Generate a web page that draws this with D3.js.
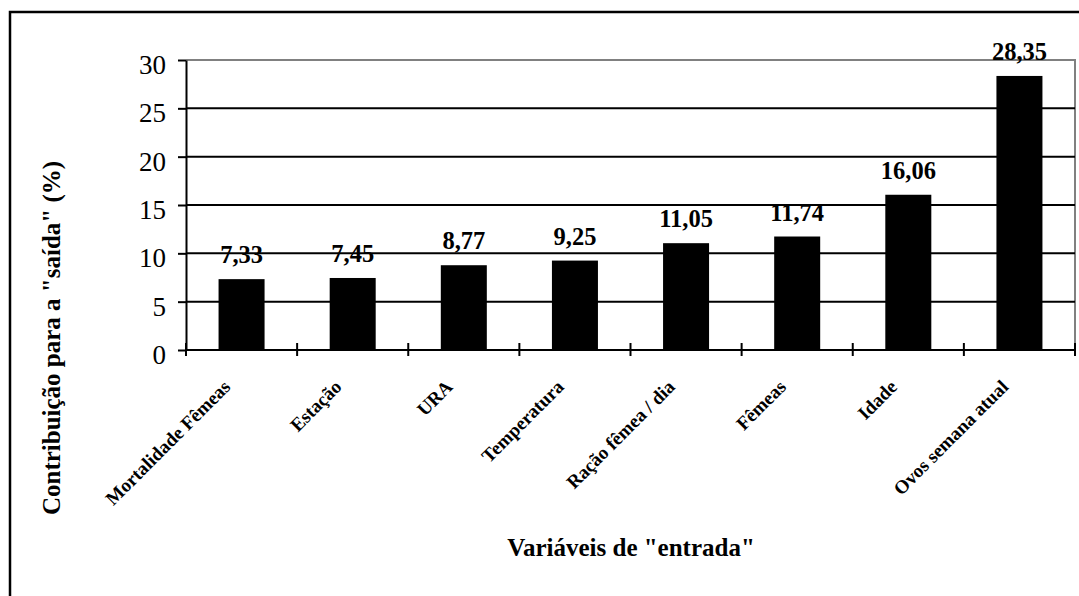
<!DOCTYPE html>
<html>
<head>
<meta charset="utf-8">
<script src="https://cdn.jsdelivr.net/npm/d3@7"></script>
<style>
  html, body { margin: 0; padding: 0; background: #fff; }
  svg { display: block; }
  text { font-family: "Liberation Serif", "Times New Roman", Times, serif; fill: #000; }
</style>
</head>
<body>
<svg id="chart" width="1079" height="596"></svg>
<script>
const categories = ["Mortalidade Fêmeas", "Estação", "URA", "Temperatura", "Ração fêmea / dia", "Fêmeas", "Idade", "Ovos semana atual"];
const values = [7.33, 7.45, 8.77, 9.25, 11.05, 11.74, 16.06, 28.35];
const yTicks = [0, 5, 10, 15, 20, 25, 30];
const yTitle = "Contribuição para a \"saída\" (%)";
const xTitle = "Variáveis de \"entrada\"";

const W = 1079, H = 596;
const plot = { left: 186, right: 1075, top: 60, bottom: 350 };

const svg = d3.select("#chart");

const locale = d3.formatLocale({ decimal: ",", thousands: ".", grouping: [3], currency: ["", ""] });
const fmt = locale.format(".2f");

// outer chart border
svg.append("rect")
  .attr("x", 10).attr("y", 12)
  .attr("width", W + 20).attr("height", H + 20)
  .attr("fill", "none").attr("stroke", "#000").attr("stroke-width", 2.5);

const x = d3.scaleBand()
  .domain(categories)
  .range([plot.left, plot.right])
  .paddingInner(0.586)
  .paddingOuter(0.293);

const y = d3.scaleLinear().domain([0, 30]).range([plot.bottom, plot.top]);

// plot area border (top + right), gray
svg.append("path")
  .attr("d", `M${plot.left},${y(30)}H${plot.right}V${plot.bottom}`)
  .attr("fill", "none").attr("stroke", "#808080").attr("stroke-width", 2);

// gridlines
svg.append("g").selectAll("line")
  .data(yTicks.filter(t => t > 0 && t < 30))
  .join("line")
  .attr("x1", plot.left).attr("x2", plot.right)
  .attr("y1", d => y(d)).attr("y2", d => y(d))
  .attr("stroke", "#000").attr("stroke-width", 2);

// bars
svg.append("g").selectAll("rect")
  .data(values)
  .join("rect")
  .attr("x", (d, i) => x(categories[i]))
  .attr("width", x.bandwidth())
  .attr("y", d => y(d))
  .attr("height", d => y(0) - y(d))
  .attr("fill", "#000");

// value labels
svg.append("g").selectAll("text")
  .data(values)
  .join("text")
  .attr("x", (d, i) => x(categories[i]) + x.bandwidth() / 2)
  .attr("y", d => y(d) - 16)
  .attr("text-anchor", "middle")
  .attr("font-weight", "bold")
  .attr("font-size", 24.5)
  .text(d => fmt(d));

// y axis
const yAxis = d3.axisLeft(y).tickValues(yTicks).tickSize(8).tickSizeOuter(0).tickPadding(12);
const gy = svg.append("g").attr("transform", `translate(${plot.left},0)`).call(yAxis);
gy.select(".domain").attr("stroke", "#000").attr("stroke-width", 2);
gy.selectAll(".tick line").attr("stroke", "#000").attr("stroke-width", 2);
gy.selectAll(".tick text")
  .attr("font-family", "\"Liberation Serif\", \"Times New Roman\", serif")
  .attr("font-size", 27)
  .attr("fill", "#000")
  .attr("dy", "0.5em");

// x axis line
const step = x.step();
const boundaries = d3.range(categories.length + 1).map(i => plot.left + i * step);
svg.append("line")
  .attr("x1", plot.left).attr("x2", plot.right)
  .attr("y1", y(0)).attr("y2", y(0))
  .attr("stroke", "#000").attr("stroke-width", 2);
svg.append("g").selectAll("line")
  .data(boundaries)
  .join("line")
  .attr("x1", d => d).attr("x2", d => d)
  .attr("y1", y(0) - 7).attr("y2", y(0) + 6)
  .attr("stroke", "#000").attr("stroke-width", 2);

// x tick labels (rotated)
svg.append("g").selectAll("text")
  .data(categories)
  .join("text")
  .attr("transform", d => `translate(${x(d) + x.bandwidth() / 2 - 10},${388}) rotate(-45)`)
  .attr("text-anchor", "end")
  .attr("font-weight", "bold")
  .attr("font-size", 19)
  .text(d => d);

// axis titles
svg.append("text")
  .attr("transform", `translate(60,338) rotate(-90)`)
  .attr("text-anchor", "middle")
  .attr("font-weight", "bold")
  .attr("font-size", 25)
  .text(yTitle);

svg.append("text")
  .attr("x", 631).attr("y", 556)
  .attr("text-anchor", "middle")
  .attr("font-weight", "bold")
  .attr("font-size", 25)
  .text(xTitle);
</script>
</body>
</html>
